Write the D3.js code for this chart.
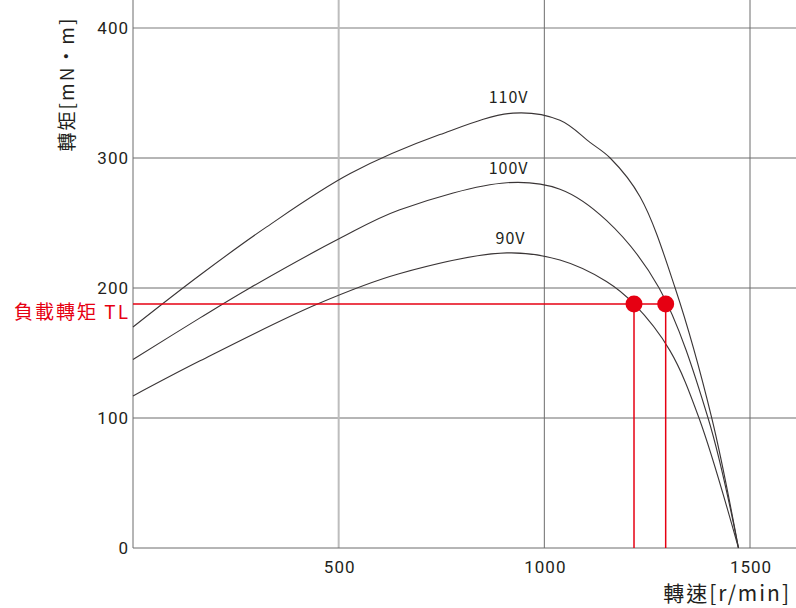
<!DOCTYPE html>
<html>
<head>
<meta charset="utf-8">
<script src="https://cdn.jsdelivr.net/npm/d3@7"></script>
<style>
  body { margin: 0; background: #fff; }
  text { font-family: "Noto Sans CJK TC", "Noto Sans", sans-serif; fill: #231f20; }
  .tick-label { font-family: "Roboto", "Liberation Sans", sans-serif; font-size: 17px; }
</style>
</head>
<body>
<svg id="chart" width="796" height="608"></svg>
<script>
// data
const xTicks = [500, 1000, 1500];
const yTicks = [0, 100, 200, 300, 400];

const speed110 = [0, 163, 325, 528, 746, 924, 1038, 1111, 1160, 1233, 1318, 1407, 1472];
const torque110 = [170, 210, 247, 288, 318, 334.5, 329, 312, 300, 270, 200, 100, 0];

const speed100 = [0, 163, 284, 502, 647, 909, 1038, 1151, 1279, 1398, 1472];
const torque100 = [145, 177, 200, 238, 260, 281, 276, 252, 200, 100, 0];

const speed90 = [0, 163, 447, 647, 909, 1038, 1151, 1218, 1305, 1376, 1472];
const torque90 = [117, 144, 187.5, 211, 227, 221.5, 205, 187.7, 152, 100, 0];

const seriesNames = ["110V", "100V", "90V"];
const labelSpeed = [913, 913, 918];
const labelTorque = [342, 288, 234];

const loadTorque = 187.7;
const loadSpeeds = [1218, 1295];

const svg = d3.select("#chart");
const width = +svg.attr("width");
const height = +svg.attr("height");

const x0 = 133;
const xScale = d3.scaleLinear().domain([0, 1500]).range([x0, 750]);
const yScale = d3.scaleLinear().domain([0, 400]).range([548, 28]);

const g = svg.append("g");

// grid lines
g.selectAll(".hgrid")
  .data(yTicks.filter((d) => d > 0))
  .enter()
  .append("line")
  .attr("x1", x0)
  .attr("x2", width)
  .attr("y1", (d) => yScale(d))
  .attr("y2", (d) => yScale(d))
  .attr("stroke", (d) => (d === 400 ? "#bdbdbd" : "#6d6d6d"))
  .attr("stroke-width", (d) => (d === 400 ? 2 : 1));

g.selectAll(".vgrid")
  .data(xTicks)
  .enter()
  .append("line")
  .attr("x1", (d) => xScale(d))
  .attr("x2", (d) => xScale(d))
  .attr("y1", 0)
  .attr("y2", yScale(0))
  .attr("stroke", (d) => (d === 500 ? "#bdbdbd" : "#6d6d6d"))
  .attr("stroke-width", (d) => (d === 500 ? 2 : 1));

// axes lines
g.append("line")
  .attr("x1", x0).attr("x2", x0)
  .attr("y1", 0).attr("y2", yScale(0))
  .attr("stroke", "#6d6d6d");
g.append("line")
  .attr("x1", x0).attr("x2", width)
  .attr("y1", yScale(0)).attr("y2", yScale(0))
  .attr("stroke", "#6d6d6d");

// tick labels
g.selectAll(".ylab")
  .data(yTicks)
  .enter()
  .append("text")
  .attr("class", "tick-label")
  .attr("x", x0 - 4)
  .attr("y", (d) => yScale(d))
  .attr("dy", "0.36em")
  .attr("text-anchor", "end")
  .attr("letter-spacing", 1)
  .text((d) => d);

g.selectAll(".xlab")
  .data(xTicks)
  .enter()
  .append("text")
  .attr("class", "tick-label")
  .attr("x", (d) => xScale(d) + 1)
  .attr("y", 573)
  .attr("text-anchor", "middle")
  .attr("letter-spacing", 1)
  .text((d) => d);

// axis titles
svg.append("text")
  .attr("transform", "translate(74,84) rotate(-90)")
  .attr("text-anchor", "middle")
  .attr("font-size", 19)
  .attr("letter-spacing", 2)
  .text("轉矩[mN·m]");

svg.append("text")
  .attr("x", 791)
  .attr("y", 601)
  .attr("text-anchor", "end")
  .attr("font-size", 21)
  .attr("letter-spacing", 2)
  .text("轉速[r/min]");

// curves
const lineGenerator = d3
  .line()
  .x((d) => xScale(d[0]))
  .y((d) => yScale(d[1]))
  .curve(d3.curveCatmullRom.alpha(0.5));

const series = [
  d3.zip(speed110, torque110),
  d3.zip(speed100, torque100),
  d3.zip(speed90, torque90),
];

g.selectAll(".curve")
  .data(series)
  .enter()
  .append("path")
  .attr("d", (d) => lineGenerator(d))
  .attr("fill", "none")
  .attr("stroke", "#3a3536")
  .attr("stroke-width", 1.1);

g.selectAll(".series-label")
  .data(seriesNames)
  .enter()
  .append("text")
  .attr("x", (d, i) => xScale(labelSpeed[i]))
  .attr("y", (d, i) => yScale(labelTorque[i]))
  .attr("text-anchor", "middle")
  .attr("font-family", "Roboto, 'Liberation Sans', sans-serif")
  .attr("font-size", 16)
  .attr("letter-spacing", 1)
  .text((d) => d);

// load torque lines
const red = "#e60012";
g.append("line")
  .attr("x1", x0)
  .attr("x2", xScale(d3.max(loadSpeeds)))
  .attr("y1", yScale(loadTorque))
  .attr("y2", yScale(loadTorque))
  .attr("stroke", red)
  .attr("stroke-width", 1.5);

g.selectAll(".vred")
  .data(loadSpeeds)
  .enter()
  .append("line")
  .attr("x1", (d) => xScale(d))
  .attr("x2", (d) => xScale(d))
  .attr("y1", yScale(loadTorque))
  .attr("y2", yScale(0))
  .attr("stroke", red)
  .attr("stroke-width", 1.5);

g.selectAll(".dot")
  .data(loadSpeeds)
  .enter()
  .append("circle")
  .attr("cx", (d) => xScale(d))
  .attr("cy", yScale(loadTorque))
  .attr("r", 8.5)
  .attr("fill", red);

svg.append("text")
  .attr("x", 130)
  .attr("y", yScale(loadTorque) + 15)
  .attr("text-anchor", "end")
  .attr("font-size", 19)
  .attr("letter-spacing", 2)
  .style("fill", red)
  .text("負載轉矩 TL");
</script>
</body>
</html>
